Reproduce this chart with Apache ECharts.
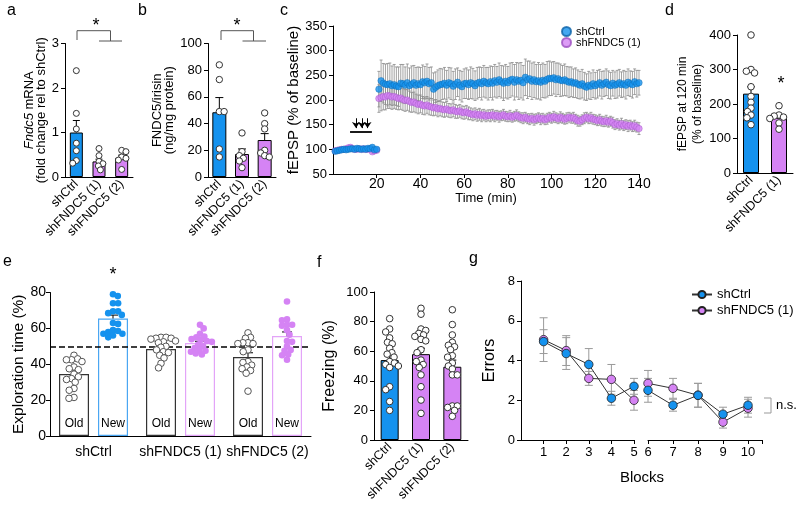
<!DOCTYPE html>
<html><head><meta charset="utf-8">
<script src="https://cdn.jsdelivr.net/npm/echarts@6/dist/echarts.min.js"></script>
<style>html,body{margin:0;padding:0;background:#fff}#c{width:800px;height:512px}</style>
</head><body><div id="c"></div>
<script>
const FONT = '"Liberation Sans", Arial, Helvetica, sans-serif';
const BLUE = '#1592ee', PURPLE = '#d583f4', BLUE_EDGE = '#4aa6f2', PURPLE_EDGE = '#e3a4f8';

// ---------- DATA ----------
const groups3 = ['shCtrl', 'shFNDC5 (1)', 'shFNDC5 (2)'];
const groups2 = ['shCtrl', 'shFNDC5 (1)'];

// a
const aMean = [1.0, 0.35, 0.43];
const aSem = [0.27, 0.05, 0.06];
const aCtrl = [2.39, 1.43, 1.08, 0.76, 0.59, 0.37, 0.31];
const aF1 = [0.64, 0.48, 0.35, 0.30, 0.25, 0.16];
const aF2 = [0.60, 0.57, 0.45, 0.42, 0.38, 0.17];
// b
const bMean = [48.5, 17.2, 27.7];
const bSem = [11, 3.8, 4.8];
const bCtrl = [84, 73, 49, 49, 21, 15];
const bF1 = [33, 19, 16, 14, 12, 7];
const bF2 = [48, 40, 36, 20, 18, 16, 15];
// c
const cTicks = [20, 40, 60, 80, 100, 120, 140];
const cTime = Array.from({length: 140}, (_, i) => i + 1);
const cCtrl = [96,97,98,99,100,99,100,101,101,100,102,101,100,101,100,102,101,104,99,100,
 222,239,234,232,231,233,229,231,228,227,
 234,233,230,235,229,232,235,230,233,231,
 237,235,238,233,235,222,226,229,231,232,
 234,230,235,233,228,232,236,230,227,233,
 234,231,235,233,229,234,236,233,238,235,
 233,237,234,239,236,241,237,234,238,235,
 240,242,236,241,238,240,235,246,241,243,
 238,241,237,239,236,240,238,242,244,243,
 245,241,243,240,239,241,238,236,237,234,
 235,232,230,233,228,226,230,228,233,229,
 232,235,230,233,236,231,229,234,230,232,
 235,231,233,230,236,233,231,237,233,235];
const cCtrlSem = [3,3,2,3,3,2,3,3,3,2,3,3,2,3,3,3,2,3,3,3,
 36,42,40,41,43,42,40,41,39,40,
 38,39,37,38,36,37,35,36,34,35,
 34,33,35,33,32,33,31,32,33,31,
 32,30,31,32,30,31,29,30,31,30,
 31,30,32,31,30,32,31,33,32,31,
 33,32,34,33,32,34,33,35,34,33,
 35,34,36,35,37,36,35,37,38,36,
 37,36,35,37,36,35,34,36,35,34,
 33,34,32,33,31,32,30,31,30,29,
 30,29,28,29,28,27,28,27,28,27,
 28,27,28,26,27,28,27,26,27,28,
 27,26,27,28,27,26,27,26,27,25];
const cF = [97,98,99,100,100,101,103,104,101,100,100,101,100,101,100,100,101,95,97,98,
 203,205,207,206,209,208,206,207,205,203,
 204,201,199,200,197,195,196,193,191,192,
 189,188,190,187,186,184,185,182,183,181,
 180,182,179,178,180,177,176,178,175,174,
 176,173,172,170,172,169,171,168,170,167,
 169,168,170,167,169,166,168,170,167,166,
 168,165,167,169,166,164,163,165,162,161,
 163,160,162,164,161,163,160,162,165,163,
 166,164,162,165,163,161,163,165,163,164,
 161,158,157,160,163,165,162,164,161,160,
 158,160,157,156,158,155,157,154,150,152,
 149,152,148,150,147,149,146,148,145,142];
const cFSem = [3,2,3,3,2,3,3,4,3,2,3,3,2,3,2,3,3,3,2,3,
 28,27,27,26,26,25,25,24,24,23,
 23,22,22,21,21,20,20,19,19,18,
 18,18,17,17,17,16,16,16,15,15,
 15,15,14,14,14,14,13,13,13,13,
 13,13,12,12,12,12,12,12,11,11,
 11,12,11,11,10,11,10,11,10,10,
 11,10,10,11,10,10,11,10,10,11,
 10,11,10,10,11,10,10,11,10,10,
 11,10,10,11,10,10,11,10,10,11,
 10,11,10,10,11,10,10,11,10,10,
 10,11,10,10,11,10,10,11,10,10,
 10,11,10,10,11,10,10,11,10,12];
// d
const dMean = [230, 160];
const dSem = [20, 9];
const dCtrl = [400, 300, 295, 290, 250, 222, 205, 188, 178, 168, 160, 140];
const dF1 = [195, 168, 165, 162, 158, 145, 127];
// e
const eOldMean = [34.5, 48.5, 44];
const eOldSem = [2.3, 1.3, 2.4];
const eNewMean = [65.5, 51.8, 55.7];
const eNewSem = [1.9, 1.0, 2.3];
const eOldCtrl = [45, 43, 42.5, 42.5, 41.5, 38.5, 37.5, 37, 34.5, 33, 32, 31.5, 30, 26.5, 25.5, 21.5, 21];
const eNewCtrl = [79, 78, 74, 74, 69.5, 69.5, 68.5, 67.5, 63, 62.5, 59, 58.5, 58, 57, 57, 56, 55];
const eOldF1 = [55, 55, 54.5, 54.5, 54, 53, 52.5, 52, 50, 49.5, 48, 47, 46.5, 45, 43.5, 40.5, 38];
const eNewF1 = [62, 60, 57, 55.5, 55, 54, 53.5, 53, 52.5, 51, 50, 49, 48, 47.5, 47, 46, 45.5];
const eOldF2 = [57.5, 55, 54.5, 52, 52, 51.5, 51.5, 48, 47, 41.5, 41, 39.5, 38.5, 37.5, 36.5, 35, 25];
const eNewF2 = [75, 65, 64.5, 62, 62, 61.5, 59, 56.5, 53, 52.5, 50, 48, 47.5, 45.5, 45, 42.5];
const eChance = 50;
// f
const fMean = [54, 58, 49.5];
const fSem = [3, 4, 4.5];
const fCtrl = [82, 75, 73, 69, 66, 65, 62, 59, 58, 56, 53, 52, 51, 50, 49, 36, 34, 26, 20];
const fF1 = [89, 85, 75, 74, 72, 71, 70, 68, 67, 61, 59, 54, 53, 51, 49, 44, 36, 27, 18];
const fF2 = [88, 78, 71, 66, 64, 63, 61, 57, 56, 52, 50, 48, 44, 44, 23, 23, 22, 20, 16];
// g
const gBlocks = [1, 2, 3, 4, 5, 6, 7, 8, 9, 10];
const gCtrl = [4.95, 4.35, 3.8, 2.1, 2.7, 2.5, 1.75, 2.25, 1.3, 1.75];
const gCtrlSem = [0.6, 0.8, 0.8, 0.35, 0.4, 0.6, 0.3, 0.6, 0.35, 0.4];
const gF1 = [5.05, 4.5, 3.1, 3.05, 2.0, 2.85, 2.6, 2.25, 0.9, 1.6];
const gF1Sem = [1.1, 0.75, 0.35, 0.75, 0.5, 0.65, 0.5, 0.6, 0.3, 0.45];
const gTicksL = [1, 2, 3, 4, 5];
const gTicksR = [6, 7, 8, 9, 10];

// ---------- LAYOUT ----------
const L = {
  a: {left: 65, top: 43.5, width: 68, height: 133.5, min: 0, max: 3},
  b: {left: 208, top: 43.5, width: 68, height: 133.5, min: 0, max: 100},
  c: {left: 333, top: 26, width: 306, height: 148, min: 50, max: 350},
  d: {left: 737, top: 35, width: 56, height: 138, min: 0, max: 400},
  e: {left: 50, top: 292.5, width: 261, height: 143.5, min: 0, max: 80},
  f: {left: 374, top: 292, width: 94, height: 148, min: 0, max: 100},
  gl: {left: 521, top: 281, width: 113, height: 159, min: 0, max: 8},
  gr: {left: 648, top: 281, width: 114, height: 159, min: 0, max: 8}
};
const order = ['a', 'b', 'c', 'd', 'e', 'f', 'gl', 'gr'];
const ppu = k => L[k].height / (L[k].max - L[k].min);

// beeswarm layout of individual points (pixel offsets from bar centre)
function swarm(values, r, scale, sep) {
  const idx = values.map((v, i) => i).sort((p, q) => values[q] - values[p]);
  const placed = [], out = new Array(values.length).fill(0);
  const d = sep * r;
  let side = 1;
  for (const i of idx) {
    const y = values[i] * scale;
    const cands = [0];
    for (const q of placed) {
      const dy = Math.abs(q.y - y);
      if (dy < d) { const w = Math.sqrt(d * d - dy * dy); cands.push(q.x + w, q.x - w); }
    }
    side = -side;
    cands.sort((p, q) => Math.abs(p) - Math.abs(q) || side * (q - p));
    let chosen = 0;
    for (const c of cands) {
      if (placed.every(q => (q.x - c) ** 2 + (q.y - y) ** 2 >= d * d - 0.01)) { chosen = c; break; }
    }
    placed.push({x: chosen, y}); out[i] = chosen;
  }
  return out;
}

const labelBase = {color: '#000', fontFamily: FONT, fontSize: 13};
const lineBase = {lineStyle: {color: '#000', width: 1}};
function yAx(gi, k, interval, name, nameGap, nameStyle, extra) {
  return Object.assign({
    type: 'value', gridIndex: gi, min: L[k].min, max: L[k].max, interval,
    axisLine: Object.assign({show: true}, lineBase),
    axisTick: {show: true, length: 4, lineStyle: {color: '#000'}},
    axisLabel: Object.assign({}, labelBase, {margin: 6}),
    splitLine: {show: false},
    name, nameGap, nameLocation: 'middle',
    nameTextStyle: Object.assign({color: '#000', fontFamily: FONT}, nameStyle)
  }, extra || {});
}
function catX(gi, data, extra) {
  return Object.assign({
    type: 'category', gridIndex: gi, data,
    axisLine: lineBase,
    axisTick: {alignWithLabel: true, length: 4, lineStyle: {color: '#000'}},
    axisLabel: Object.assign({}, labelBase, {rotate: 45, fontSize: 12.5, margin: 5, interval: 0})
  }, extra || {});
}
function bars(gi, means, width) {
  return {type: 'bar', xAxisIndex: gi, yAxisIndex: gi, barWidth: width, z: 2,
    data: means.map((v, i) => ({value: v, itemStyle: {color: i === 0 ? BLUE : PURPLE}})),
    itemStyle: {borderColor: '#000', borderWidth: 1}};
}
function errUp(gi, means, sems, cap, offset, color) {
  return {type: 'custom', xAxisIndex: gi, yAxisIndex: gi, z: 4, silent: true,
    data: means.map((m, i) => [i, m, sems[i]]),
    renderItem: (p, api) => {
      const x = api.value(0), m = api.value(1), s = api.value(2);
      const a = api.coord([x, m]), b = api.coord([x, m + s]);
      const cx = a[0] + offset, st = {stroke: color, lineWidth: 1};
      return {type: 'group', children: [
        {type: 'line', shape: {x1: cx, y1: a[1], x2: cx, y2: b[1]}, style: st},
        {type: 'line', shape: {x1: cx - cap, y1: b[1], x2: cx + cap, y2: b[1]}, style: st}]};
    }};
}
function errBoth(gi, xs, means, sems, cap, color, lw, z) {
  return {type: 'custom', xAxisIndex: gi, yAxisIndex: gi, z, silent: true,
    data: xs.map((x, i) => [x, means[i], sems[i]]),
    renderItem: (p, api) => {
      const x = api.value(0), m = api.value(1), s = api.value(2);
      const t = api.coord([x, m + s]), b = api.coord([x, m - s]);
      const st = {stroke: color, lineWidth: lw};
      return {type: 'group', children: [
        {type: 'line', shape: {x1: t[0], y1: t[1], x2: b[0], y2: b[1]}, style: st},
        {type: 'line', shape: {x1: t[0] - cap, y1: t[1], x2: t[0] + cap, y2: t[1]}, style: st},
        {type: 'line', shape: {x1: b[0] - cap, y1: b[1], x2: b[0] + cap, y2: b[1]}, style: st}]};
    }};
}
function dots(gi, k, cat, vals, r, fill, stroke, offset, sep) {
  const dx = swarm(vals, r, ppu(k), sep || 1.5);
  return {type: 'custom', xAxisIndex: gi, yAxisIndex: gi, z: 6, silent: true,
    data: vals.map((v, i) => [cat, v, dx[i]]),
    renderItem: (p, api) => {
      const c = api.coord([api.value(0), api.value(1)]);
      return {type: 'circle', shape: {cx: c[0] + (offset || 0) + api.value(2), cy: c[1], r},
        style: {fill, stroke: stroke || 'none', lineWidth: stroke ? 1 : 0}};
    }};
}
const OPEN = ['#fff', '#333'];

const xAxis = [
  catX(0, groups3),
  catX(1, groups3),
  {type: 'value', gridIndex: 2, min: 0, max: 140, axisLine: lineBase,
   axisTick: {length: 4, lineStyle: {color: '#000'}, customValues: cTicks},
   axisLabel: Object.assign({}, labelBase, {fontSize: 14, margin: 3, customValues: cTicks}),
   splitLine: {show: false}, name: 'Time (min)', nameLocation: 'middle', nameGap: 13,
   nameTextStyle: {color: '#000', fontFamily: FONT, fontSize: 13}},
  catX(3, groups2),
  catX(4, groups3, {axisTick: {show: false},
   axisLabel: Object.assign({}, labelBase, {fontSize: 14, margin: 9, interval: 0})}),
  catX(5, groups3),
  {type: 'value', gridIndex: 6, min: 0, max: 5, axisLine: lineBase,
   axisTick: {length: 4, lineStyle: {color: '#000'}, customValues: gTicksL},
   axisLabel: Object.assign({}, labelBase, {margin: 6, customValues: gTicksL}), splitLine: {show: false}},
  {type: 'value', gridIndex: 7, min: 6, max: 10.56, axisLine: lineBase,
   axisTick: {length: 4, lineStyle: {color: '#000'}, customValues: gTicksR.concat([10.56])},
   axisLabel: Object.assign({}, labelBase, {margin: 6, customValues: gTicksR}), splitLine: {show: false}}
];
const yAxis = [
  yAx(0, 'a', 1, '{i|Fndc5} mRNA\n(fold change rel to shCtrl)', 13,
      {fontSize: 13, lineHeight: 12, rich: {i: {fontStyle: 'italic', fontSize: 13, fontFamily: FONT, color: '#000'}}}),
  yAx(1, 'b', 20, 'FNDC5/irisin\n(ng/mg protein)', 31, {fontSize: 13, lineHeight: 12.5}),
  yAx(2, 'c', 50, 'fEPSP (% of baseline)', 27, {fontSize: 15}),
  yAx(3, 'd', 100, 'fEPSP at 120 min\n(% of baseline)', 24, {fontSize: 12, lineHeight: 15}),
  yAx(4, 'e', 20, 'Exploration time (%)', 15, {fontSize: 15.5}, {axisLabel: Object.assign({}, labelBase, {fontSize: 14, margin: 4})}),
  yAx(5, 'f', 20, 'Freezing (%)', 36, {fontSize: 16}),
  yAx(6, 'gl', 2, 'Errors', 23, {fontSize: 16}),
  yAx(7, 'gr', 2, '', 0, {}, {show: false})
];

const series = [
  // a
  bars(0, aMean, 13), errUp(0, aMean, aSem, 3.5, 0, '#000'),
  dots(0, 'a', 0, aCtrl, 3, ...OPEN), dots(0, 'a', 1, aF1, 3, ...OPEN), dots(0, 'a', 2, aF2, 3, ...OPEN),
  // b
  bars(1, bMean, 14), errUp(1, bMean, bSem, 4, 0, '#000'),
  dots(1, 'b', 0, bCtrl, 3.2, ...OPEN), dots(1, 'b', 1, bF1, 3.2, ...OPEN), dots(1, 'b', 2, bF2, 3.2, ...OPEN),
  // c
  errBoth(2, cTime, cF, cFSem, 1.5, '#8c8c8c', 0.8, 2),
  errBoth(2, cTime, cCtrl, cCtrlSem, 1.5, '#8c8c8c', 0.8, 2),
  {type: 'scatter', name: 'shFNDC5 (1) ', xAxisIndex: 2, yAxisIndex: 2, symbolSize: 6.5, z: 3,
   itemStyle: {color: PURPLE, borderColor: '#9c4fc0', borderWidth: 0.5},
   data: cTime.map((t, i) => [t, cF[i]])},
  {type: 'scatter', name: 'shCtrl ', xAxisIndex: 2, yAxisIndex: 2, symbolSize: 6.5, z: 3,
   itemStyle: {color: BLUE, borderColor: '#0d63a8', borderWidth: 0.5},
   data: cTime.map((t, i) => [t, cCtrl[i]]),
   markLine: {silent: true, animation: false, label: {show: false}, symbol: ['none', 'arrow'], symbolSize: 6,
     lineStyle: {color: '#000', width: 1, type: 'solid'},
     data: [
       [{coord: [7.8, 135], symbol: 'none', lineStyle: {width: 1.8}}, {coord: [17.8, 135], symbol: 'none'}],
       [{coord: [10.5, 163]}, {coord: [10.5, 143]}],
       [{coord: [13.2, 163]}, {coord: [13.2, 143]}],
       [{coord: [15.8, 163]}, {coord: [15.8, 143]}]
     ]}},
  // d
  bars(3, dMean, 16), errUp(3, dMean, dSem, 4, 0, '#000'),
  dots(3, 'd', 0, dCtrl, 3.3, ...OPEN), dots(3, 'd', 1, dF1, 3.3, ...OPEN),
  // e
  {type: 'bar', name: 'Old', xAxisIndex: 4, yAxisIndex: 4, barWidth: 30, barGap: '30%', data: eOldMean, z: 2,
   itemStyle: {color: '#fff', borderColor: '#333', borderWidth: 1.2},
   label: {show: true, position: 'insideBottom', distance: 6, formatter: 'Old', fontSize: 12, color: '#000', fontFamily: FONT},
   markLine: {silent: true, animation: false, symbol: 'none', label: {show: false},
     lineStyle: {color: '#000', width: 1.6, type: [6, 3]}, data: [{yAxis: eChance}]}},
  {type: 'bar', name: 'New', xAxisIndex: 4, yAxisIndex: 4, barWidth: 30, barGap: '30%', z: 2,
   data: eNewMean.map((v, i) => ({value: v, itemStyle: {borderColor: i === 0 ? BLUE_EDGE : PURPLE_EDGE}})),
   itemStyle: {color: '#fff', borderWidth: 1.2},
   label: {show: true, position: 'insideBottom', distance: 6, formatter: 'New', fontSize: 12, color: '#000', fontFamily: FONT}},
  errUp(4, eOldMean, eOldSem, 5, -19.5, '#000'), errUp(4, eNewMean, eNewSem, 5, 19.5, '#000'),
  dots(4, 'e', 0, eOldCtrl, 3.3, '#fff', '#555', -19.5, 1.55), dots(4, 'e', 0, eNewCtrl, 3.3, BLUE, null, 19.5, 1.55),
  dots(4, 'e', 1, eOldF1, 3.3, '#fff', '#555', -19.5, 1.55), dots(4, 'e', 1, eNewF1, 3.3, PURPLE, null, 19.5, 1.55),
  dots(4, 'e', 2, eOldF2, 3.3, '#fff', '#555', -19.5, 1.55), dots(4, 'e', 2, eNewF2, 3.3, PURPLE, null, 19.5, 1.55),
  // f
  bars(5, fMean, 18), errUp(5, fMean, fSem, 4, 0, '#000'),
  dots(5, 'f', 0, fCtrl, 3.3, ...OPEN), dots(5, 'f', 1, fF1, 3.3, ...OPEN), dots(5, 'f', 2, fF2, 3.3, ...OPEN),
  // g
  errBoth(6, gBlocks.slice(0, 5), gF1.slice(0, 5), gF1Sem.slice(0, 5), 4, '#9a9a9a', 1, 2),
  errBoth(6, gBlocks.slice(0, 5), gCtrl.slice(0, 5), gCtrlSem.slice(0, 5), 4, '#9a9a9a', 1, 2),
  errBoth(7, gBlocks.slice(5), gF1.slice(5), gF1Sem.slice(5), 4, '#9a9a9a', 1, 2),
  errBoth(7, gBlocks.slice(5), gCtrl.slice(5), gCtrlSem.slice(5), 4, '#9a9a9a', 1, 2)
];
[[6, 0, 5], [7, 5, 10]].forEach(([gi, s, e]) => {
  [['shFNDC5 (1)', gF1, PURPLE], ['shCtrl', gCtrl, BLUE]].forEach(([name, vals, col]) => {
    series.push({type: 'line', name, xAxisIndex: gi, yAxisIndex: gi, z: 4, symbol: 'circle', symbolSize: 8.5,
      itemStyle: {color: col, borderColor: '#222', borderWidth: 0.8}, lineStyle: {color: '#333', width: 1},
      data: gBlocks.slice(s, e).map((b, i) => [b, vals.slice(s, e)[i]])});
  });
});

const txt = (x, y, text, size, extra) => ({type: 'text', x, y, silent: true,
  style: Object.assign({text, fontSize: size, fontFamily: FONT, fill: '#000', verticalAlign: 'middle'}, extra || {})});
const poly = pts => ({type: 'polyline', silent: true, shape: {points: pts}, style: {stroke: '#555', lineWidth: 1, fill: null}});

const graphic = [
  txt(7, 10.5, 'a', 16), txt(138, 11, 'b', 16), txt(280, 10.5, 'c', 16), txt(665, 11, 'd', 16),
  txt(3, 262, 'e', 16), txt(317, 263, 'f', 16), txt(469, 258.5, 'g', 16),
  txt(96, 26, '*', 18, {align: 'center'}), txt(237, 26, '*', 18, {align: 'center'}),
  txt(781, 84, '*', 18, {align: 'center'}), txt(113, 275, '*', 18, {align: 'center'}),
  poly([[77, 40], [77, 30.7], [110.5, 30.7], [110.5, 41]]), poly([[99, 41], [122, 41]]),
  poly([[221, 40], [221, 30.7], [253.5, 30.7], [253.5, 41]]), poly([[242.5, 41], [266, 41]]),
  {type: 'polyline', silent: true, shape: {points: [[764, 398], [771, 398], [771, 413], [764, 413]]}, style: {stroke: '#999', lineWidth: 1, fill: null}},
  txt(776, 405, 'n.s.', 13),
  txt(642, 478, 'Blocks', 15, {align: 'center'})
];

const chart = echarts.init(document.getElementById('c'), null, {renderer: 'canvas'});
chart.setOption({
  animation: false,
  backgroundColor: '#fff',
  textStyle: {fontFamily: FONT},
  grid: order.map(k => ({left: L[k].left, top: L[k].top, width: L[k].width, height: L[k].height, containLabel: false, outerBoundsMode: 'none'})),
  xAxis, yAxis, series, graphic,
  legend: [
    {data: ['shCtrl ', 'shFNDC5 (1) '], left: 556, top: 21, orient: 'vertical', icon: 'circle', itemWidth: 9, itemHeight: 9, itemGap: 0,
     selectedMode: false, textStyle: {fontSize: 11, fontFamily: FONT, color: '#000'}},
    {data: ['shCtrl', 'shFNDC5 (1)'], left: 686, top: 283, orient: 'vertical', itemWidth: 20, itemHeight: 9, itemGap: 3,
     selectedMode: false, textStyle: {fontSize: 13, fontFamily: FONT, color: '#000'}}
  ]
});
</script></body></html>
